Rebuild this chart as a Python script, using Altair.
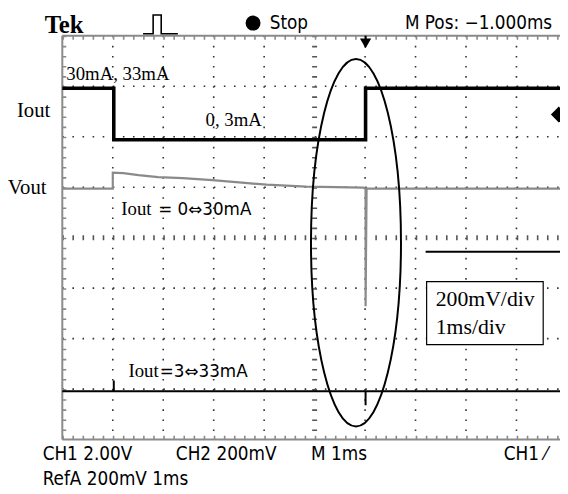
import altair as alt
import pandas as pd

W, H = 504, 409
XMAX = 9.863          # visible time span (ms); scope screen cut at the right
YMAX = 8.0            # vertical divisions

# ---- traces (time in ms = div, level in divisions) ----
iout_t = [0.0, 1.02, 1.02, 6.01, 6.01, 9.863]
iout_v = [6.96, 6.96, 5.94, 5.94, 6.96, 6.96]

vout_t = [0.0, 1.0, 1.0, 1.21, 1.51, 1.90, 2.39, 2.97, 3.56, 4.05, 4.44, 4.83,
          5.42, 5.97, 6.01, 6.01, 6.03, 9.863]
vout_v = [4.97, 4.97, 5.29, 5.28, 5.24, 5.20, 5.18, 5.14, 5.09, 5.05, 5.03, 5.01,
          5.00, 4.99, 4.97, 2.64, 4.97, 4.97]

ref_t = [0.0, 1.02, 1.02, 1.02, 6.01, 6.01, 6.01, 9.863]
ref_v = [0.96, 0.96, 1.17, 0.96, 0.96, 0.68, 0.96, 0.96]

pulse_t = [1.60, 1.80, 1.80, 1.96, 1.96, 2.29]
pulse_v = [8.04, 8.04, 8.41, 8.41, 8.04, 8.04]

seg_t = [7.20]
seg_t2 = [9.863]
seg_v = [3.72]

box_t, box_t2 = [7.22], [9.53]
box_v, box_v2 = [3.13], [1.88]

ell_t, ell_v = [5.82], [3.90]

# trigger-position marker stem
trig_t = [6.01]
trig_v, trig_v2 = [8.0], [7.80]

# ---- labels ----
serif_text = ["30mA, 33mA", "0, 3mA", "Iout", "Iout"]
serif_t = [0.08, 2.84, 1.17, 1.31]
serif_v = [7.13, 6.22, 4.44, 1.25]

side_text = ["Iout", "Vout"]
side_t = [-0.90, -1.08]
side_v = [6.40, 4.86]

eq_text = ["= 0\u21d430mA", "=3\u21d433mA"]
eq_t = [1.90, 1.93]
eq_v = [4.44, 1.25]

box_text = ["200mV/div", "1ms/div"]
boxtxt_t = [7.40, 7.40]
boxtxt_v = [2.64, 2.09]

ui_text = ["Stop", "M Pos: \u22121.000ms", "CH1 2.00V", "CH2 200mV", "M 1ms", "CH1 \u2044",
           "RefA 200mV 1ms"]
ui_t = [4.11, 6.79, -0.39, 2.25, 4.93, 8.75, -0.39]
ui_v = [8.14, 8.14, -0.41, -0.41, -0.41, -0.41, -0.90]

tek_text, tek_t, tek_v = ["Tek"], [-0.35], [8.06]

mark_t = [3.78, 6.01, 9.84]
mark_v = [8.25, 7.85, 6.44]
mark_shape = ["circle", "triangle-down", "diamond"]
mark_size = [230, 130, 260]

grid_x = [1, 2, 3, 4, 6, 7, 8, 9]
grid_y = [1, 2, 3, 5, 6, 7]

GRAY = "#8a8a8a"
DOT = "#333"
DASH = [1.6, 8.625]

xs = alt.Scale(domain=[0, XMAX], nice=False, zero=False)
ys = alt.Scale(domain=[0, YMAX], nice=False, zero=False)


def X(f):
    return alt.X(f, type="quantitative", scale=xs, axis=None)


def Y(f):
    return alt.Y(f, type="quantitative", scale=ys, axis=None)


def line_df(t, v):
    return pd.DataFrame({"t": t, "v": v, "i": list(range(len(t)))})


one = pd.DataFrame({"a": [0]})

# graticule: dotted division lines
grid_v = alt.Chart(pd.DataFrame({"g": grid_x})).mark_rule(
    color=DOT, strokeWidth=1.6, strokeDash=DASH).encode(
    x=X("g"), y=alt.value(0), y2=alt.value(H))
grid_h = alt.Chart(pd.DataFrame({"g": grid_y})).mark_rule(
    color=DOT, strokeWidth=1.6, strokeDash=DASH).encode(
    y=Y("g"), x=alt.value(0), x2=alt.value(W))
# centre lines with minor ticks
center_v = alt.Chart(pd.DataFrame({"g": [5]})).mark_rule(
    color="#555", strokeWidth=5, strokeDash=DASH).encode(
    x=X("g"), y=alt.value(0), y2=alt.value(H))
center_h = alt.Chart(pd.DataFrame({"g": [4]})).mark_rule(
    color="#555", strokeWidth=5, strokeDash=DASH).encode(
    y=Y("g"), x=alt.value(0), x2=alt.value(W))
# border with ticks
border_l = alt.Chart(one).mark_rule(color=GRAY, strokeWidth=2).encode(
    x=alt.value(0), y=alt.value(0), y2=alt.value(H))
border_t = alt.Chart(one).mark_rule(color=GRAY, strokeWidth=2).encode(
    y=alt.value(0), x=alt.value(0), x2=alt.value(W))
border_b = alt.Chart(one).mark_rule(color=GRAY, strokeWidth=2).encode(
    y=alt.value(H), x=alt.value(0), x2=alt.value(W))
tick_l = alt.Chart(one).mark_rule(color=GRAY, strokeWidth=4, strokeDash=DASH).encode(
    x=alt.value(2), y=alt.value(0), y2=alt.value(H))
tick_t = alt.Chart(one).mark_rule(color=GRAY, strokeWidth=4, strokeDash=DASH).encode(
    y=alt.value(2), x=alt.value(0), x2=alt.value(W))
tick_b = alt.Chart(one).mark_rule(color=GRAY, strokeWidth=4, strokeDash=DASH).encode(
    y=alt.value(H - 2), x=alt.value(0), x2=alt.value(W))

vout = alt.Chart(line_df(vout_t, vout_v)).mark_line(color=GRAY, strokeWidth=2.2).encode(
    x=X("t"), y=Y("v"), order="i:Q")
ref = alt.Chart(line_df(ref_t, ref_v)).mark_line(color="black", strokeWidth=2).encode(
    x=X("t"), y=Y("v"), order="i:Q")
iout = alt.Chart(line_df(iout_t, iout_v)).mark_line(color="black", strokeWidth=3.6).encode(
    x=X("t"), y=Y("v"), order="i:Q")
pulse = alt.Chart(line_df(pulse_t, pulse_v)).mark_line(color="black", strokeWidth=1.6).encode(
    x=X("t"), y=Y("v"), order="i:Q")

seg = alt.Chart(pd.DataFrame({"t": seg_t, "t2": seg_t2, "v": seg_v})).mark_rule(
    color="black", strokeWidth=2).encode(x=X("t"), x2="t2", y=Y("v"))

trig = alt.Chart(pd.DataFrame({"t": trig_t, "v": trig_v, "v2": trig_v2})).mark_rule(
    color="black", strokeWidth=2).encode(x=X("t"), y=Y("v"), y2="v2")

box = alt.Chart(pd.DataFrame({"t": box_t, "t2": box_t2, "v": box_v, "v2": box_v2})).mark_rect(
    fill="white", stroke="black", strokeWidth=1.2).encode(x=X("t"), x2="t2", y=Y("v"), y2="v2")

ELLIPSE = "M -0.245 0 A 0.245 1 0 1 0 0.245 0 A 0.245 1 0 1 0 -0.245 0 Z"
ellipse = alt.Chart(pd.DataFrame({"t": ell_t, "v": ell_v})).mark_point(
    shape=ELLIPSE, size=372 * 372, filled=False, color="black", strokeWidth=2,
    opacity=1).encode(x=X("t"), y=Y("v"))

markers = alt.Chart(pd.DataFrame({"t": mark_t, "v": mark_v, "s": mark_shape,
                                  "z": mark_size})).mark_point(
    filled=True, color="black", opacity=1).encode(
    x=X("t"), y=Y("v"), shape=alt.Shape("s:N", scale=None, legend=None),
    size=alt.Size("z:Q", scale=None, legend=None))

SERIF = "Liberation Serif, Times New Roman, serif"
SANS = "DejaVu Sans, sans-serif"
UI = "Liberation Sans Narrow, DejaVu Sans Condensed, sans-serif"


def text_layer(t, v, s, font, size, weight="normal"):
    return alt.Chart(pd.DataFrame({"t": t, "v": v, "s": s})).mark_text(
        font=font, fontSize=size, fontWeight=weight, align="left",
        baseline="alphabetic", color="black").encode(x=X("t"), y=Y("v"), text="s:N")


serif_lbl = text_layer(serif_t, serif_v, serif_text, SERIF, 19)
side_lbl = text_layer(side_t, side_v, side_text, SERIF, 21)
eq_lbl = text_layer(eq_t, eq_v, eq_text, SANS, 17)
box_lbl = text_layer(boxtxt_t, boxtxt_v, box_text, SERIF, 22)
ui_lbl = text_layer(ui_t, ui_v, ui_text, UI, 19)
tek_lbl = text_layer(tek_t, tek_v, tek_text, SERIF, 25, "bold")

chart = alt.layer(
    grid_v, grid_h, center_v, center_h, border_l, border_t, border_b, tick_l, tick_t, tick_b,
    vout, ref, iout, seg, ellipse, box, box_lbl, serif_lbl, side_lbl, eq_lbl, pulse, trig,
    markers, ui_lbl, tek_lbl
).properties(
    width=W, height=H,
    autosize=alt.AutoSizeParams(type="none"),
    padding={"left": 55, "top": 25, "right": 0, "bottom": 52},
    background="white",
).configure_view(stroke="transparent")

chart.save("out.html", embed_options={"renderer": "svg", "actions": False})
